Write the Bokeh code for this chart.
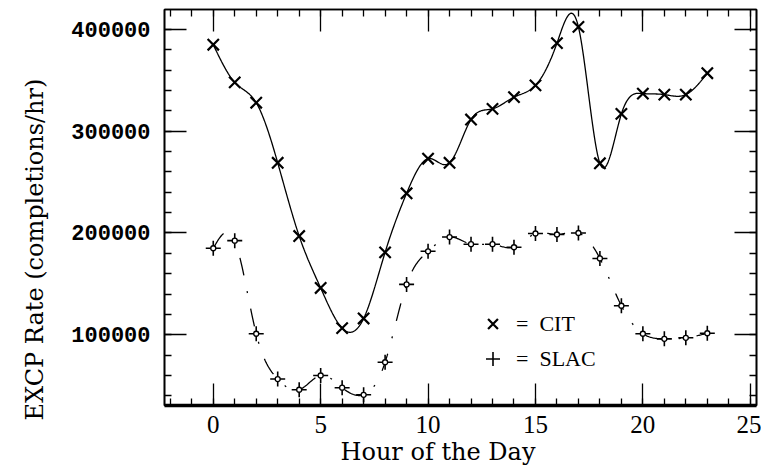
import numpy as np
from bokeh.plotting import figure
from bokeh.models import (Range1d, LinearAxis, FixedTicker, Title, Legend,
                          LegendItem, ColumnDataSource, NumeralTickFormatter)
from bokeh.embed import file_html
from bokeh.resources import INLINE

# EXCP completion rate by hour of the day at two sites
hours = list(range(24))
cit_rate = [385000, 348000, 328000, 269000, 197000, 146000, 106500, 116000,
            181000, 239000, 273000, 269000, 311500, 322000, 333500, 345000,
            386500, 402500, 268500, 317000, 337000, 336000, 336000, 357000]
slac_rate = [185000, 192500, 101000, 56500, 46000, 60000, 48000, 41000,
             73000, 149500, 182000, 196000, 189000, 189000, 186000, 199500,
             198500, 200000, 175000, 128500, 101000, 96000, 97000, 101500]

x_major = [0, 5, 10, 15, 20, 25]
x_minor = list(range(-2, 26))
y_major = [100000, 200000, 300000, 400000]
y_minor = list(range(40000, 420001, 20000))


def natural_spline(xs, ys, xq):
    """Natural cubic spline through (xs, ys), evaluated at xq."""
    xs = np.asarray(xs, float)
    ys = np.asarray(ys, float)
    n = len(xs)
    h = np.diff(xs)
    A = np.zeros((n, n))
    r = np.zeros(n)
    A[0, 0] = A[-1, -1] = 1.0
    for i in range(1, n - 1):
        A[i, i - 1] = h[i - 1]
        A[i, i] = 2 * (h[i - 1] + h[i])
        A[i, i + 1] = h[i]
        r[i] = 3 * ((ys[i + 1] - ys[i]) / h[i] - (ys[i] - ys[i - 1]) / h[i - 1])
    c = np.linalg.solve(A, r)
    b = (ys[1:] - ys[:-1]) / h - h * (2 * c[:-1] + c[1:]) / 3
    d = (c[1:] - c[:-1]) / (3 * h)
    idx = np.clip(np.searchsorted(xs, xq) - 1, 0, n - 2)
    dx = xq - xs[idx]
    return ys[idx] + b[idx] * dx + c[idx] * dx ** 2 + d[idx] * dx ** 3


pts = ColumnDataSource(dict(hour=hours, cit=cit_rate, slac=slac_rate))
fine = np.linspace(hours[0], hours[-1], 600)
curves = ColumnDataSource(dict(hour=fine,
                               cit=natural_spline(hours, cit_rate, fine),
                               slac=natural_spline(hours, slac_rate, fine)))

p = figure(width=761, height=470,
           x_range=Range1d(-2.27, 25.29), y_range=Range1d(30500, 419600),
           output_backend="svg", toolbar_location=None,
           min_border_left=164, min_border_right=5,
           min_border_top=9, min_border_bottom=65)
p.xgrid.visible = False
p.ygrid.visible = False
p.outline_line_color = "black"
p.outline_line_width = 1.6
p.background_fill_color = "white"
p.border_fill_color = "white"

xt = FixedTicker(ticks=x_major, minor_ticks=x_minor)
yt = FixedTicker(ticks=y_major, minor_ticks=y_minor)


def style_axis(ax, ticker, ticks, labels=True):
    ax.ticker = ticker
    ax.axis_line_color = "black"
    ax.axis_line_width = 1.6
    ax.major_tick_in = 22
    ax.major_tick_out = 0
    ax.minor_tick_in = 7
    ax.minor_tick_out = 0
    ax.major_tick_line_color = "black"
    ax.minor_tick_line_color = "black"
    ax.major_tick_line_width = 1.3
    ax.minor_tick_line_width = 1.3
    if not labels:
        ax.major_label_overrides = {t: "" for t in ticks}
        ax.major_label_standoff = 0


xa = p.xaxis[0]
style_axis(xa, xt, x_major)
xa.axis_line_width = 3.5
xa.major_label_text_font = "Liberation Serif"
xa.major_label_text_font_size = "25px"
xa.major_label_text_color = "black"
xa.major_label_standoff = 10

ya = p.yaxis[0]
style_axis(ya, yt, y_major)
ya.formatter = NumeralTickFormatter(format="0")
ya.major_label_text_font = "Liberation Mono"
ya.major_label_text_font_style = "bold"
ya.major_label_text_font_size = "22px"
ya.major_label_text_color = "black"
ya.major_label_standoff = 14

top_ax = LinearAxis()
style_axis(top_ax, xt, x_major, labels=False)
p.add_layout(top_ax, "above")
right_ax = LinearAxis()
style_axis(right_ax, yt, y_major, labels=False)
p.add_layout(right_ax, "right")

# fitted curves
p.line("hour", "cit", source=curves, line_color="black", line_width=1.3)
p.line("hour", "slac", source=curves, line_color="black", line_width=1.3,
       line_dash="18 16 2 16")

# measured points
cit_r = p.scatter("hour", "cit", source=pts, marker="x", size=16,
                  line_color="black", line_width=2.2)
slac_r = p.scatter("hour", "slac", source=pts, marker="cross", size=15,
                   line_color="black", line_width=1.6)
p.scatter("hour", "slac", source=pts, marker="circle", size=5,
          line_color="black", fill_color="white", line_width=1.3)

legend = Legend(items=[LegendItem(label="=  CIT", renderers=[cit_r]),
                       LegendItem(label="=  SLAC", renderers=[slac_r])],
                location=(311, 29), glyph_width=35, glyph_height=35,
                label_standoff=6, padding=0, spacing=0, margin=0,
                border_line_color=None, background_fill_alpha=0,
                label_text_font="Liberation Serif",
                label_text_font_size="22px", label_text_color="black")
p.add_layout(legend)

p.add_layout(Title(text="Hour of the Day", align="left", offset=176,
                   standoff=0, text_font="DejaVu Serif",
                   text_font_size="24px", text_font_style="normal",
                   text_color="black"), "below")
p.add_layout(Title(text="EXCP Rate (completions/hr)", align="left",
                   offset=-15, standoff=36, vertical_align="top",
                   text_font="DejaVu Serif", text_font_size="24px",
                   text_font_style="normal", text_color="black"), "left")

open("out.html", "w").write(file_html(p, INLINE))
